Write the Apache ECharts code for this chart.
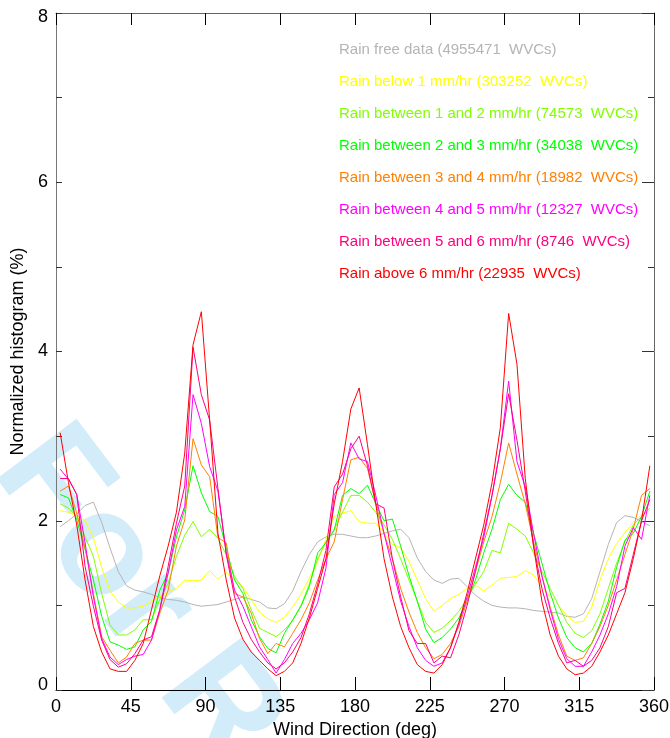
<!DOCTYPE html>
<html>
<head>
<meta charset="utf-8">
<script src="https://cdn.jsdelivr.net/npm/echarts@6/dist/echarts.min.js"></script>
<style>
  html, body { margin: 0; padding: 0; background: #fff; }
  #main { width: 670px; height: 738px; }
</style>
</head>
<body>
<div id="main"></div>
<script>
var myChart = echarts.init(document.getElementById('main'));

// bin centres (deg)
var angles = [
  2.5, 7.5, 12.5, 17.5, 22.5, 27.5, 32.5, 37.5, 42.5, 47.5, 52.5, 57.5,
  62.5, 67.5, 72.5, 77.5, 82.5, 87.5, 92.5, 97.5, 102.5, 107.5, 112.5, 117.5,
  122.5, 127.5, 132.5, 137.5, 142.5, 147.5, 152.5, 157.5, 162.5, 167.5, 172.5, 177.5,
  182.5, 187.5, 192.5, 197.5, 202.5, 207.5, 212.5, 217.5, 222.5, 227.5, 232.5, 237.5,
  242.5, 247.5, 252.5, 257.5, 262.5, 267.5, 272.5, 277.5, 282.5, 287.5, 292.5, 297.5,
  302.5, 307.5, 312.5, 317.5, 322.5, 327.5, 332.5, 337.5, 342.5, 347.5, 352.5, 357.5
];

var rainFree = [
  1.93, 2.00, 2.08, 2.18, 2.22, 1.98, 1.68, 1.40, 1.23, 1.18, 1.16, 1.13,
  1.09, 1.07, 1.06, 1.04, 1.01, 0.99, 1.00, 1.01, 1.04, 1.07, 1.10, 1.07,
  1.04, 0.97, 0.96, 1.02, 1.17, 1.40, 1.60, 1.75, 1.81, 1.84, 1.84, 1.82,
  1.80, 1.80, 1.82, 1.85, 1.88, 1.90, 1.80, 1.56, 1.40, 1.30, 1.26, 1.31,
  1.32, 1.22, 1.12, 1.05, 1.00, 0.98, 0.97, 0.97, 0.96, 0.94, 0.93, 0.92,
  0.91, 0.87, 0.86, 0.90, 1.08, 1.40, 1.72, 1.98, 2.06, 2.04, 1.99, 1.94
];
var rain0to1 = [
  2.12, 2.10, 2.06, 2.00, 1.80, 1.45, 1.17, 1.04, 0.97, 0.97, 0.99, 1.05,
  1.10, 1.16, 1.20, 1.30, 1.29, 1.30, 1.41, 1.31, 1.39, 1.30, 1.22, 1.07,
  0.92, 0.84, 0.80, 0.86, 0.98, 1.13, 1.32, 1.52, 1.78, 2.05, 2.09, 2.12,
  1.99, 1.97, 1.97, 1.86, 1.72, 1.68, 1.52, 1.30, 1.08, 0.93, 1.00, 1.08,
  1.13, 1.20, 1.24, 1.17, 1.24, 1.32, 1.33, 1.34, 1.41, 1.36, 1.22, 1.10,
  1.00, 0.88, 0.80, 0.81, 0.98, 1.30, 1.55, 1.73, 1.86, 1.98, 2.07, 2.12
];
var rain1to2 = [
  2.20, 2.15, 2.05, 1.81, 1.58, 1.14, 0.77, 0.65, 0.65, 0.71, 0.83, 0.83,
  1.07, 1.26, 1.58, 1.83, 1.99, 1.81, 1.90, 1.79, 1.60, 1.34, 1.20, 0.95,
  0.73, 0.68, 0.63, 0.71, 0.82, 1.00, 1.25, 1.55, 1.75, 1.90, 2.10, 2.30,
  2.30, 2.22, 2.10, 1.95, 1.78, 1.55, 1.30, 1.05, 0.80, 0.68, 0.73, 0.82,
  0.93, 1.08, 1.25, 1.40, 1.65, 1.62, 1.97, 1.90, 1.82, 1.62, 1.40, 1.20,
  1.00, 0.80, 0.67, 0.62, 0.70, 0.90, 1.20, 1.50, 1.75, 1.95, 2.05, 2.15
];
var rain2to3 = [
  2.31, 2.27, 2.01, 1.66, 1.30, 0.87, 0.57, 0.53, 0.48, 0.51, 0.71, 0.81,
  1.18, 1.38, 1.81, 2.13, 2.65, 2.33, 2.11, 2.05, 1.68, 1.30, 1.14, 0.83,
  0.63, 0.49, 0.44, 0.67, 0.83, 0.99, 1.22, 1.62, 1.74, 1.89, 2.30, 2.38,
  2.32, 2.42, 2.20, 2.00, 2.02, 1.70, 1.35, 1.05, 0.72, 0.56, 0.62, 0.72,
  0.85, 1.05, 1.30, 1.62, 1.90, 2.25, 2.43, 2.30, 2.22, 1.85, 1.50, 1.15,
  0.85, 0.62, 0.50, 0.45, 0.55, 0.78, 1.05, 1.45, 1.77, 1.85, 2.05, 2.35
];
var rain3to4 = [
  2.35, 2.41, 2.09, 1.68, 1.14, 0.63, 0.47, 0.32, 0.39, 0.55, 0.59, 0.59,
  0.91, 1.18, 1.70, 2.01, 2.97, 2.66, 2.52, 1.80, 1.74, 1.14, 1.10, 0.91,
  0.61, 0.43, 0.55, 0.51, 0.67, 0.83, 1.03, 1.30, 1.55, 1.75, 2.25, 2.72,
  2.75, 2.62, 2.20, 1.85, 1.55, 1.20, 0.92, 0.68, 0.50, 0.37, 0.42, 0.55,
  0.75, 1.05, 1.40, 1.75, 2.05, 2.45, 2.92, 2.55, 2.20, 1.75, 1.35, 0.98,
  0.65, 0.40, 0.35, 0.38, 0.55, 0.75, 1.00, 1.30, 1.60, 1.90, 2.30, 2.38
];
var rain4to5 = [
  2.61, 2.49, 2.31, 1.74, 1.10, 0.61, 0.39, 0.30, 0.36, 0.40, 0.42, 0.59,
  0.95, 1.38, 1.89, 2.17, 3.49, 3.15, 2.64, 2.35, 1.62, 1.18, 0.99, 0.75,
  0.51, 0.36, 0.20, 0.36, 0.55, 0.67, 0.83, 1.03, 1.44, 2.31, 2.45, 2.92,
  2.73, 2.70, 2.30, 1.85, 1.45, 1.05, 0.75, 0.50, 0.35, 0.28, 0.32, 0.50,
  0.78, 1.10, 1.45, 1.80, 2.30, 2.85, 3.65, 2.70, 2.40, 1.85, 1.35, 0.95,
  0.60, 0.37, 0.28, 0.28, 0.45, 0.65, 0.90, 1.22, 1.70, 1.92, 1.78, 2.30
];
var rain5to6 = [
  2.50, 2.50, 2.31, 1.46, 0.99, 0.59, 0.36, 0.27, 0.31, 0.43, 0.59, 0.63,
  0.95, 1.46, 1.97, 2.41, 4.05, 3.49, 3.19, 2.38, 1.60, 1.10, 0.80, 0.60,
  0.45, 0.32, 0.25, 0.32, 0.45, 0.62, 0.90, 1.25, 1.65, 2.40, 2.55, 2.85,
  3.00, 2.65, 2.20, 2.15, 1.55, 1.10, 0.70, 0.55, 0.55, 0.32, 0.40, 0.38,
  0.65, 1.00, 1.40, 1.85, 2.30, 2.85, 3.50, 2.95, 2.35, 1.70, 1.20, 0.85,
  0.55, 0.32, 0.35, 0.28, 0.35, 0.50, 0.75, 1.15, 1.20, 1.60, 2.00, 2.25
];
var rainAbove6 = [
  3.04, 2.45, 1.95, 1.30, 0.75, 0.45, 0.25, 0.22, 0.22, 0.35, 0.55, 0.95,
  1.35, 1.70, 2.10, 2.80, 4.08, 4.47, 3.19, 1.85, 1.30, 0.85, 0.60, 0.45,
  0.35, 0.25, 0.17, 0.22, 0.32, 0.55, 0.85, 1.20, 1.55, 2.20, 2.70, 3.32,
  3.57, 2.90, 2.20, 1.55, 1.10, 0.75, 0.50, 0.30, 0.22, 0.20, 0.30, 0.50,
  0.80, 1.15, 1.55, 1.95, 2.45, 3.10, 4.45, 3.85, 2.50, 1.70, 1.05, 0.65,
  0.40, 0.25, 0.18, 0.20, 0.28, 0.45, 0.65, 0.90, 1.15, 1.55, 2.00, 2.65
];

var names = [
  'Rain free data (4955471  WVCs)',
  'Rain below 1 mm/hr (303252  WVCs)',
  'Rain between 1 and 2 mm/hr (74573  WVCs)',
  'Rain between 2 and 3 mm/hr (34038  WVCs)',
  'Rain between 3 and 4 mm/hr (18982  WVCs)',
  'Rain between 4 and 5 mm/hr (12327  WVCs)',
  'Rain between 5 and 6 mm/hr (8746  WVCs)',
  'Rain above 6 mm/hr (22935  WVCs)'
];
var values = [rainFree, rain0to1, rain1to2, rain2to3, rain3to4, rain4to5, rain5to6, rainAbove6];
var colors = ['#b4b4b4', '#ffff00', '#80ff00', '#00ff00', '#ff8000', '#ff00ff', '#ff0080', '#ff0000'];

var series = values.map(function (vals, i) {
  return {
    name: names[i],
    type: 'line',
    data: angles.map(function (a, j) { return [a, vals[j]]; }),
    showSymbol: false,
    lineStyle: { color: colors[i], width: 1 },
    itemStyle: { color: colors[i] },
    silent: true
  };
});

var font = 'Liberation Sans, Arial, Helvetica, sans-serif';

option = {
  animation: false,
  textStyle: { fontFamily: font },
  grid: { left: 56, right: 16, top: 13, bottom: 48, outerBoundsMode: 'none' },
  legend: {
    orient: 'vertical',
    left: 334,
    top: 42,
    padding: 0,
    icon: 'none',
    itemWidth: 0,
    itemHeight: 14,
    itemGap: 17,
    selectedMode: false,
    data: names.map(function (n, i) {
      return { name: n, textStyle: { color: colors[i] } };
    }),
    textStyle: { fontSize: 15, fontFamily: font }
  },
  graphic: [{
    type: 'text',
    x: 23,
    y: 447,
    rotation: -53 * Math.PI / 180,
    z: -10,
    silent: true,
    style: {
      text: 'For Review',
      fontSize: 145,
      fontWeight: 'bold',
      fontFamily: font,
      fill: '#d2ecfa',
      textAlign: 'left',
      textVerticalAlign: 'middle'
    }
  }],
  xAxis: [{
    type: 'value',
    min: 0,
    max: 360,
    interval: 45,
    name: 'Wind Direction (deg)',
    nameLocation: 'middle',
    nameGap: 30,
    nameTextStyle: { fontSize: 18, color: '#000' },
    axisLine: { onZero: false, lineStyle: { color: '#000', width: 1 } },
    axisTick: { inside: true, length: 13, lineStyle: { color: '#000' } },
    axisLabel: { fontSize: 18, color: '#000', margin: 8 },
    splitLine: { show: false }
  }, {
    type: 'value',
    position: 'top',
    min: 0,
    max: 360,
    interval: 45,
    axisLine: { onZero: false, lineStyle: { color: '#666', width: 1 } },
    axisTick: { inside: true, length: 12, lineStyle: { color: '#000' } },
    axisLabel: { show: false },
    splitLine: { show: false }
  }],
  yAxis: [{
    type: 'value',
    min: 0,
    max: 8,
    interval: 2,
    name: 'Normalized histogram (%)',
    nameLocation: 'middle',
    nameGap: 22,
    nameTextStyle: { fontSize: 18, color: '#000' },
    axisLine: { show: true, onZero: false, lineStyle: { color: '#777', width: 1 } },
    axisTick: { inside: true, length: 6, lineStyle: { color: '#333' } },
    minorTick: { show: true, splitNumber: 2, length: 6, lineStyle: { color: '#333' } },
    axisLabel: {
      fontSize: 18,
      color: '#000',
      margin: 8,
      // nudge the end labels inward like the original plot
      formatter: function (v) {
        if (v === 0) return '{lo|0}';
        if (v === 8) return '{hi|8}';
        return String(v);
      },
      rich: {
        lo: { fontSize: 18, color: '#000', padding: [0, 0, 10, 0] },
        hi: { fontSize: 18, color: '#000', padding: [8, 0, 0, 0] }
      }
    },
    splitLine: { show: false }
  }, {
    type: 'value',
    position: 'right',
    min: 0,
    max: 8,
    interval: 2,
    axisLine: { show: true, onZero: false, lineStyle: { color: '#666', width: 1 } },
    axisTick: { inside: true, length: 12, lineStyle: { color: '#333' } },
    minorTick: { show: true, splitNumber: 2, length: 6, lineStyle: { color: '#333' } },
    axisLabel: { show: false },
    splitLine: { show: false }
  }],
  series: series
};

myChart.setOption(option);
</script>
</body>
</html>
